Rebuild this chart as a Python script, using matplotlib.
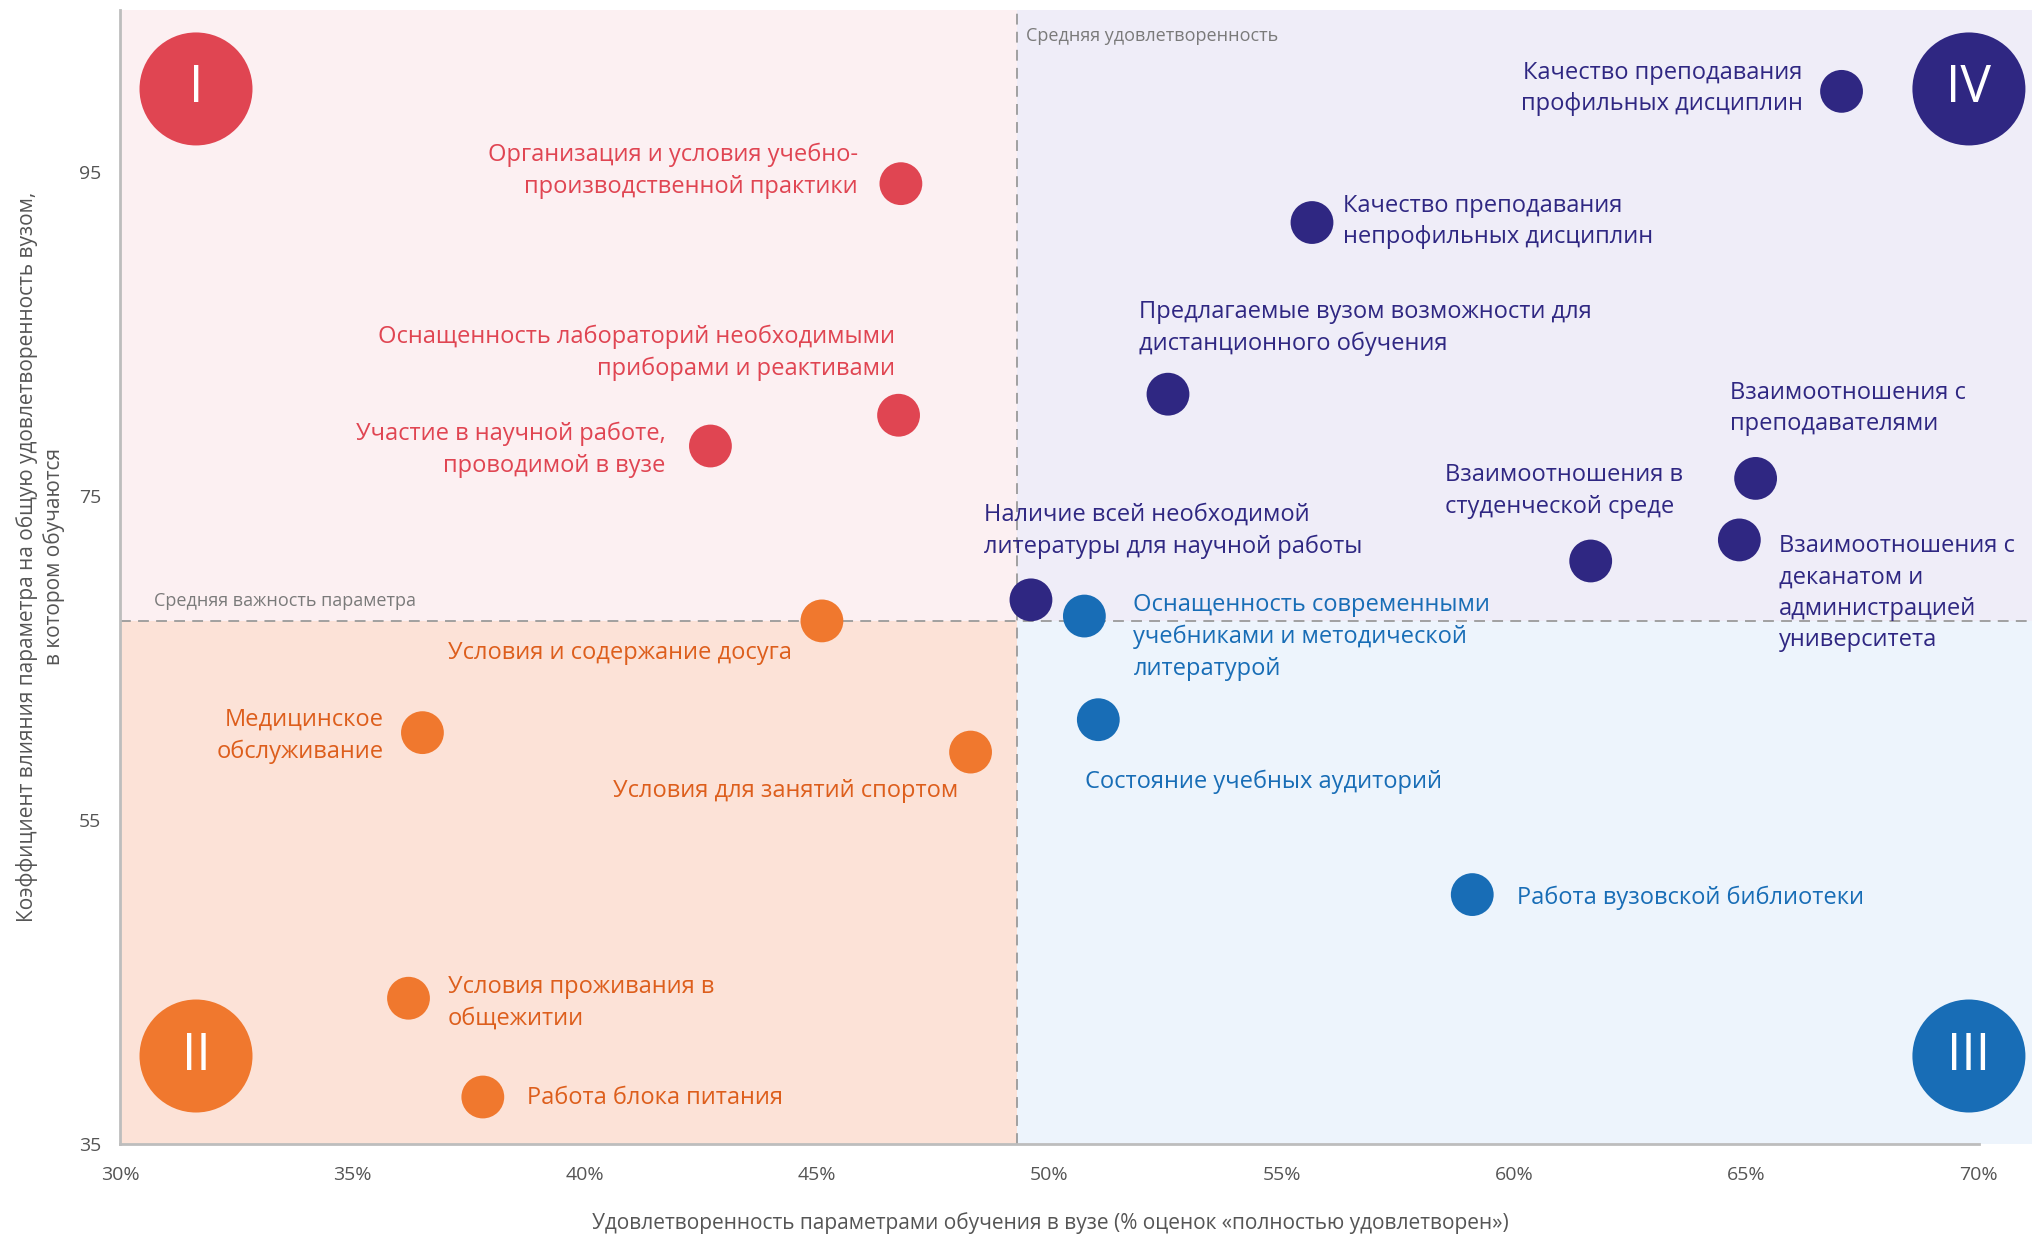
import matplotlib.pyplot as plt
from matplotlib.patches import Rectangle

plt.rcParams['font.family'] = ['Open Sans', 'DejaVu Sans']

# Parameters of study (label text), satisfaction (% "fully satisfied") and influence coefficient
labels = [
    "Организация и условия учебно-\nпроизводственной практики",
    "Оснащенность лабораторий необходимыми\nприборами и реактивами",
    "Участие в научной работе,\nпроводимой в вузе",
    "Условия и содержание досуга",
    "Медицинское\nобслуживание",
    "Условия для занятий спортом",
    "Условия проживания в\nобщежитии",
    "Работа блока питания",
    "Качество преподавания\nпрофильных дисциплин",
    "Качество преподавания\nнепрофильных дисциплин",
    "Предлагаемые вузом возможности для\nдистанционного обучения",
    "Взаимоотношения с\nпреподавателями",
    "Взаимоотношения в\nстуденческой среде",
    "Взаимоотношения с\nдеканатом и\nадминистрацией\nуниверситета",
    "Наличие всей необходимой\nлитературы для научной работы",
    "Оснащенность современными\nучебниками и методической\nлитературой",
    "Состояние учебных аудиторий",
    "Работа вузовской библиотеки",
]
satisfaction = [46.8, 46.75, 42.7, 45.1, 36.5, 48.3, 36.2, 37.8,
                67.05, 55.65, 52.55, 65.2, 61.65, 64.85, 49.6, 50.75, 51.05, 59.1]
influence = [94.3, 80.0, 78.1, 67.3, 60.4, 59.2, 44.0, 37.9,
             100.0, 91.9, 81.3, 76.1, 71.0, 72.3, 68.6, 67.6, 61.2, 50.4]
quadrant = ["I", "I", "I", "II", "II", "II", "II", "II",
            "IV", "IV", "IV", "IV", "IV", "IV", "IV", "III", "III", "III"]

avg_satisfaction = 49.3
avg_influence = 67.3

x_ticks = [30, 35, 40, 45, 50, 55, 60, 65, 70]
y_ticks = [35, 55, 75, 95]

# Styles
dot_colors = {"I": "#E04552", "II": "#F0782E", "III": "#186DB6", "IV": "#2F2782"}
text_colors = {"I": "#E04552", "II": "#DD5E1C", "III": "#186DB6", "IV": "#2F2782"}
bg_colors = {"I": "#FCF0F2", "II": "#FCE2D7", "III": "#EDF4FC", "IV": "#EFEDF8"}

# label offsets from the dot, in pixels (dx, dy, alignment)
label_offsets = [
    (-43, 13, "right"), (-4, 62, "right"), (-45, -4, "right"),
    (-30, -32, "right"), (-39, -3, "right"), (-12, -39, "right"),
    (39, -5, "left"), (44, -1, "left"),
    (-39, 3, "right"), (31, 1, "left"), (-29, 66, "left"), (-26, 70, "left"),
    (-146, 70, "left"), (40, -53, "left"), (-47, 69, "left"),
    (49, -21, "left"), (-13, -62, "left"), (45, -3, "left"),
]

XMIN, XMAX, YMIN, YMAX = 30, 71.15, 35, 105

fig = plt.figure(figsize=(20.32, 12.37), dpi=100)
ax = fig.add_axes([0.0593, 0.0752, 1 - 0.0593, 0.9916 - 0.0752])
ax.set_xlim(XMIN, XMAX)
ax.set_ylim(YMIN, YMAX)

# quadrant backgrounds
ax.add_patch(Rectangle((XMIN, avg_influence), avg_satisfaction - XMIN, YMAX - avg_influence,
                       color=bg_colors["I"], zorder=0, lw=0))
ax.add_patch(Rectangle((XMIN, YMIN), avg_satisfaction - XMIN, avg_influence - YMIN,
                       color=bg_colors["II"], zorder=0, lw=0))
ax.add_patch(Rectangle((avg_satisfaction, YMIN), XMAX - avg_satisfaction, avg_influence - YMIN,
                       color=bg_colors["III"], zorder=0, lw=0))
ax.add_patch(Rectangle((avg_satisfaction, avg_influence), XMAX - avg_satisfaction, YMAX - avg_influence,
                       color=bg_colors["IV"], zorder=0, lw=0))

# average lines
ax.axvline(avg_satisfaction, color="#9A9A9A", lw=1.3, dashes=(6, 4), zorder=1)
ax.axhline(avg_influence, color="#9A9A9A", lw=1.3, dashes=(6, 4), zorder=1)
ax.text(avg_satisfaction + 0.2, 103.4, "Средняя удовлетворенность", fontsize=13,
        color="#7A7A7A", ha="left", va="center")
ax.text(30.72, avg_influence + 1.2, "Средняя важность параметра", fontsize=13,
        color="#7A7A7A", ha="left", va="center")

# points
for q in ["I", "II", "III", "IV"]:
    xs = [x for x, g in zip(satisfaction, quadrant) if g == q]
    ys = [y for y, g in zip(influence, quadrant) if g == q]
    ax.scatter(xs, ys, s=950, color=dot_colors[q], edgecolor="none", zorder=3)

for lab, x, y, q, (dx, dy, ha) in zip(labels, satisfaction, influence, quadrant, label_offsets):
    ax.annotate(lab, (x, y), xytext=(dx, dy), textcoords="offset pixels",
                ha=ha, va="center", multialignment=ha, fontsize=17,
                color=text_colors[q], zorder=4, linespacing=1.42)

# quadrant badges
badges = [("I", 0.0395, 0.9307), ("II", 0.0395, 0.0776), ("III", 0.967, 0.0776), ("IV", 0.967, 0.9307)]
for name, bx, by in badges:
    ax.scatter([bx], [by], s=6620, color=dot_colors[name], edgecolor="none",
               transform=ax.transAxes, zorder=3, clip_on=False)
    ax.text(bx, by, name, transform=ax.transAxes, ha="center", va="center",
            fontsize=37, color="white", zorder=4)

# axes styling
for side in ["top", "right"]:
    ax.spines[side].set_visible(False)
for side in ["left", "bottom"]:
    ax.spines[side].set_color("#BDBDBD")
    ax.spines[side].set_linewidth(2)
ax.spines["bottom"].set_bounds(30, 70)
ax.set_xticks(x_ticks)
ax.set_xticklabels([f"{t}%" for t in x_ticks])
ax.set_yticks(y_ticks)
ax.tick_params(length=0, labelsize=14, labelcolor="#555555")
ax.tick_params(axis="x", pad=16)
ax.tick_params(axis="y", pad=14)

fig.text(0.517, 0.0113, "Удовлетворенность параметрами обучения в вузе (% оценок «полностью удовлетворен»)",
         ha="center", va="center", fontsize=15, color="#555555")
fig.text(0.02, 0.55, "Коэффициент влияния параметра на общую удовлетворенность вузом,\nв котором обучаются",
         ha="center", va="center", rotation=90, multialignment="center",
         fontsize=15, color="#555555", linespacing=1.3)

fig.savefig("out.png", dpi=100)
